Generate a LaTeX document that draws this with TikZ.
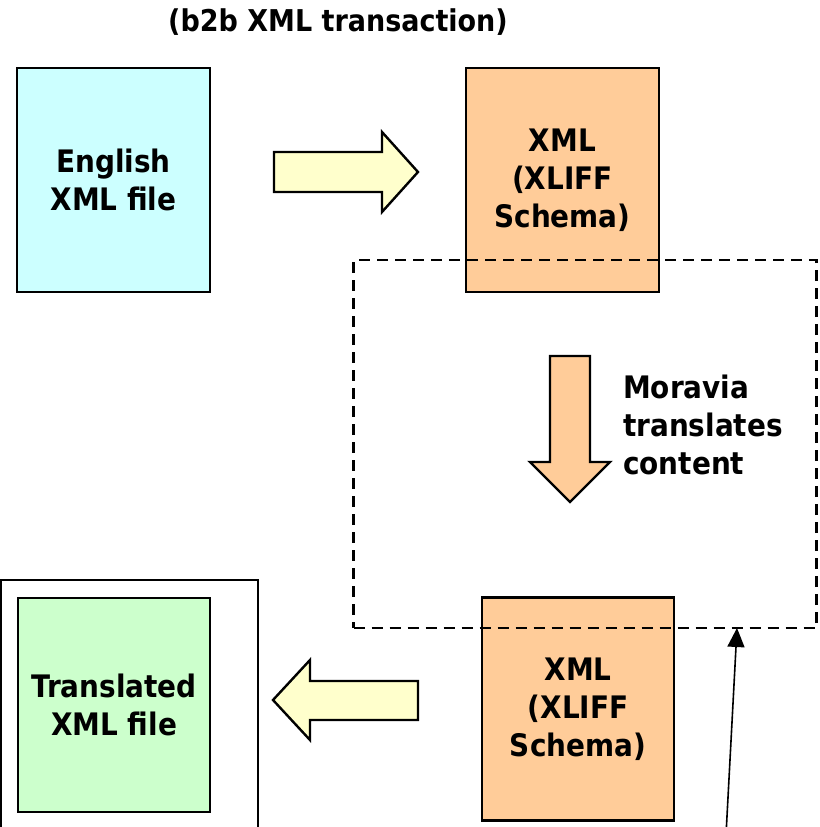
\documentclass[tikz,border=0pt]{standalone}
\usepackage{fontspec}
\setmainfont{DejaVu Sans Condensed}
\usetikzlibrary{arrows.meta}
\definecolor{cyanfill}{HTML}{CCFFFF}
\definecolor{orangefill}{HTML}{FFCC99}
\definecolor{greenfill}{HTML}{CCFFCC}
\definecolor{yellowfill}{HTML}{FFFFCC}
\tikzset{
  doc/.style={draw=black, line width=2.4pt, inner sep=0pt, align=center,
    font=\fontsize{31}{38}\selectfont\bfseries},
  blockarrow/.style={draw=black, line width=2.4pt, line join=miter},
  label/.style={inner sep=0pt, align=left, font=\fontsize{31}{38}\selectfont\bfseries},
  scopebox/.style={draw=black, line width=2.4pt, dash pattern=on 11pt off 7pt},
}
\begin{document}
\begin{tikzpicture}[x=1pt,y=-1pt]
\useasboundingbox (0,0) rectangle (819,827);
% title
\node[label, font=\fontsize{30}{34}\selectfont\bfseries] (title) at (338,22) {(b2b XML transaction)};
% outer frame around translated file
\draw[line width=1.6pt] (1,835) -- (1,580) -- (258,580) -- (258,835);
% documents
\node[doc, fill=cyanfill, minimum width=193pt, minimum height=224pt] (eng) at (113.5,180) {English\\XML file};
\node[doc, fill=orangefill, minimum width=193pt, minimum height=224pt] (xlifftop) at (562.5,180) {XML\\(XLIFF\\Schema)};
\node[doc, fill=orangefill, minimum width=192pt, minimum height=223pt] (xliffbot) at (578,709) {XML\\(XLIFF\\Schema)};
\node[doc, fill=greenfill, minimum width=192pt, minimum height=214pt] (trans) at (114,705) {Translated\\XML file};
% block arrows
\draw[blockarrow, fill=yellowfill] (274,152) -- (382,152) -- (382,132) -- (418,172) -- (382,212) -- (382,192) -- (274,192) -- cycle;
\draw[blockarrow, fill=orangefill] (550,356) -- (590,356) -- (590,462) -- (610,462) -- (570,502) -- (530,462) -- (550,462) -- cycle;
\draw[blockarrow, fill=yellowfill] (418,681) -- (310,681) -- (310,660) -- (273,700) -- (310,740) -- (310,720) -- (418,720) -- cycle;
% label
\node[label, anchor=west] (moravia) at (623,425) {Moravia\\translates\\content};
% dashed scope
\node[scopebox, minimum width=463pt, minimum height=368pt, inner sep=0pt] (scope) at (585,444) {};
% pointer
\coordinate (ptail) at (726,835);
\coordinate (phead) at (737,628);
\draw[line width=1.6pt, -{Triangle[length=19pt,width=17pt]}] (ptail) -- (phead);
\end{tikzpicture}
\end{document}
